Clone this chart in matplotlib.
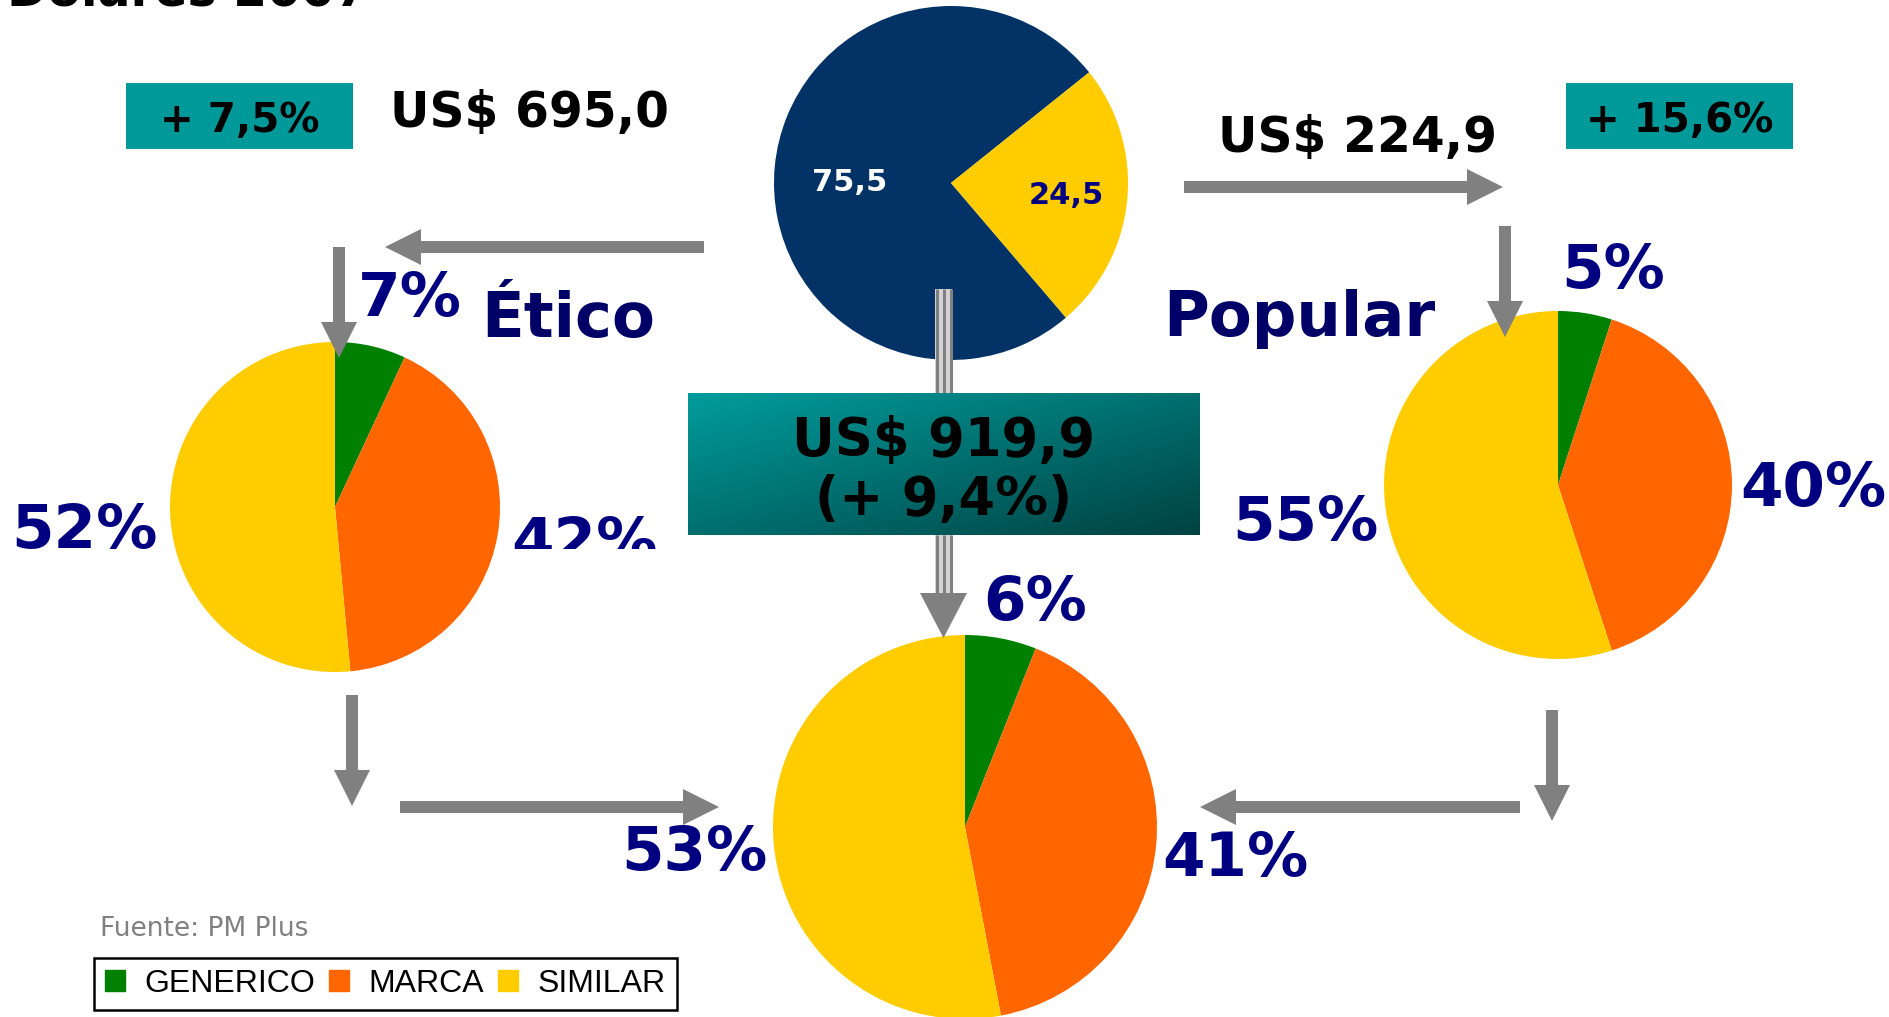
import matplotlib
matplotlib.use('Agg')
import matplotlib.pyplot as plt
import matplotlib.patches as mpatches
from matplotlib.transforms import Bbox, TransformedBbox
import numpy as np

plt.rcParams['font.family'] = ['DejaVu Sans']

W, H = 1889, 1017

# data
categories = ['GENERICO', 'MARCA', 'SIMILAR']
cat_colors = ['#008000', '#FF6600', '#FFCC00']

split = [75.5, 24.5]            # Ético / Popular
split_labels = ['75,5', '24,5']

etico = [7, 42, 52]
popular = [5, 40, 55]
total = [6, 41, 53]

etico_value, etico_growth = 'US$ 695,0', '+ 7,5%'
popular_value, popular_growth = 'US$ 224,9', '+ 15,6%'
total_value, total_growth = 'US$ 919,9', '(+ 9,4%)'

NAVY = '#000080'
GREY = '#808080'

fig = plt.figure(figsize=(W / 100, H / 100), dpi=100)
ax = fig.add_axes([0, 0, 1, 1])

wp = dict(linewidth=0, edgecolor='none')
# y axis is inverted later (pixel style), so angles are mirrored:
# startangle=-90 + counterclock=True -> starts at top and goes clockwise on screen
ax.pie(split, colors=['#033366', '#FFCC00'], startangle=-38.7, counterclock=False,
       radius=177, center=(951, 183), wedgeprops=wp, frame=True)
ax.pie(etico, colors=cat_colors, startangle=-90, counterclock=True,
       radius=165, center=(335, 507), wedgeprops=wp, frame=True)
ax.pie(popular, colors=cat_colors, startangle=-90, counterclock=True,
       radius=174, center=(1558, 485), wedgeprops=wp, frame=True)
ax.pie(total, colors=cat_colors, startangle=-90, counterclock=True,
       radius=192, center=(965, 827), wedgeprops=wp, frame=True)

# split labels on top pie
ax.text(850, 191, split_labels[0], color='white', fontsize=22, fontweight='bold',
        ha='center', va='baseline')
ax.text(1066, 204, split_labels[1], color=NAVY, fontsize=22, fontweight='bold',
        ha='center', va='baseline')

# arrows
def arrow(x, y, dx, dy):
    ax.add_patch(mpatches.FancyArrow(x, y, dx, dy, width=12, head_width=36,
                                     head_length=36, length_includes_head=True,
                                     color=GREY, linewidth=0, zorder=3))

arrow(704, 247, 385 - 704, 0)
arrow(339, 247, 0, 358 - 247)
arrow(1184, 187, 1503 - 1184, 0)
arrow(1505, 226, 0, 337 - 226)
arrow(352, 695, 0, 806 - 695)
arrow(400, 807, 719 - 400, 0)
arrow(1552, 710, 0, 821 - 710)
arrow(1520, 807, 1200 - 1520, 0)

# centre triple-line connector
for y0, y1 in [(289, 393), (535, 594)]:
    ax.add_patch(mpatches.Rectangle((935, y0), 17, y1 - y0, fc='#d4d4d4', ec='none', zorder=3))
    for xl in [936.5, 943.5, 950.5]:
        ax.plot([xl, xl], [y0, y1], color=GREY, lw=2.2, zorder=4, solid_capstyle='butt')
ax.add_patch(mpatches.Polygon([(920, 593), (967, 593), (943.5, 638)], closed=True,
                              fc=GREY, ec='none', zorder=4))

# small teal boxes
for x0, txt in [(126, etico_growth), (1566, popular_growth)]:
    ax.add_patch(mpatches.Rectangle((x0, 83), 227, 66, fc='#009999', ec='none', zorder=2))
    ax.text(x0 + 113.5, 132, txt, fontsize=29, fontweight='bold', ha='center',
            va='baseline', zorder=5)

ax.text(529, 127, etico_value, fontsize=35, fontweight='bold', ha='center', va='baseline')
ax.text(1357, 152, popular_value, fontsize=35, fontweight='bold', ha='center', va='baseline')

# gradient box in the middle
gy, gx = np.mgrid[0:1:120j, 0:1:400j]
t = 0.5 * gx + 0.5 * gy
c0 = np.array([0x00, 0x9c, 0x9c]) / 255
c1 = np.array([0x00, 0x42, 0x42]) / 255
img = c0 + (c1 - c0) * t[..., None]
ax.imshow(img, extent=(688, 1200, 535, 393), origin='upper', interpolation='bilinear',
          zorder=5)
ax.text(944, 456, total_value, fontsize=38, fontweight='bold', ha='center', va='baseline', zorder=6)
ax.text(944, 515, total_growth, fontsize=38, fontweight='bold', ha='center', va='baseline', zorder=6)

# segment titles
ax.text(568, 337, 'Ético', fontsize=45, fontweight='bold', color='#000066', ha='center', va='baseline')
ax.text(1299, 336, 'Popular', fontsize=45, fontweight='bold', color='#000066', ha='center', va='baseline')

# percentage labels
def pct(x, y, v):
    return ax.text(x, y, f'{v}%', fontsize=44, fontweight='bold', color=NAVY,
                   ha='center', va='baseline', zorder=6)

pct(410, 316, etico[0])
t42 = pct(584, 561, etico[1])
# the reference cuts this label at its lower part
t42.set_clip_box(TransformedBbox(Bbox.from_extents(0, 1 - 549 / H, 1, 1), fig.transFigure))
t42.set_clip_on(True)
pct(84, 548, etico[2])

pct(1613, 288, popular[0])
pct(1813, 506, popular[1])
pct(1305, 540, popular[2])

pct(1035, 620, total[0])
pct(1235, 876, total[1])
pct(694, 870, total[2])

# title cut at top and source
ax.text(7, 5, 'Dólares 2007', fontsize=35, fontweight='bold', ha='left', va='baseline')
ax.text(100, 936, 'Fuente: PM Plus', fontsize=19, color=GREY, ha='left', va='baseline')

handles = [mpatches.Patch(color=c) for c in cat_colors]
leg = fig.legend(handles, categories, ncol=3, loc='lower left',
                 bbox_to_anchor=(94 / W, 7 / H), borderaxespad=0, frameon=True,
                 fancybox=False, edgecolor='black', framealpha=1,
                 prop={'family': 'Liberation Sans', 'size': 23},
                 handlelength=0.62, handleheight=0.62, handletextpad=0.6,
                 columnspacing=0.45, borderpad=0.35)
leg.get_frame().set_linewidth(1.8)

ax.set_xlim(0, W)
ax.set_ylim(H, 0)
ax.set_aspect('equal')
ax.axis('off')

fig.savefig('out.png', dpi=100)
